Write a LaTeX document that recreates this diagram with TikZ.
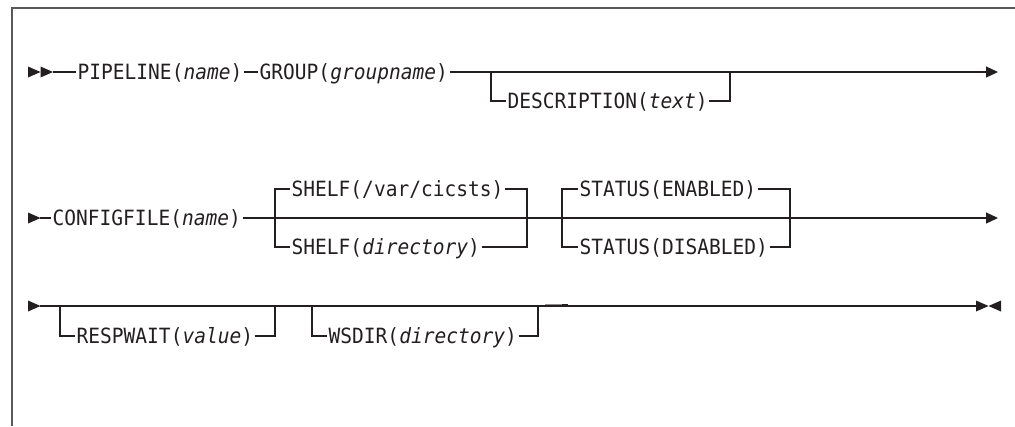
\documentclass[tikz,border=0pt]{standalone}
\usepackage{fontspec}
\setmonofont[FakeStretch=0.93]{DejaVu Sans Mono}
\usetikzlibrary{arrows.meta}
\definecolor{ink}{HTML}{231F20}
\begin{document}
\begin{tikzpicture}[x=1pt,y=-1pt,
  rr/.style={draw=ink, line width=1.25pt},
  kw/.style={anchor=west, inner xsep=1.5pt, inner ysep=0pt,
    font=\ttfamily\fontsize{21}{24}\selectfont,
    text height=18pt, text depth=2.7pt, text=ink},
  endarrow/.style={-{Triangle[length=12pt,width=11pt]}},
  tip/.style={fill=ink},
  frame/.style={draw=black!65, line width=1.6pt}
]
\useasboundingbox (0,0) rectangle (1015,426);
% frame
\draw[frame] (12,426) -- (12,8) -- (1015,8);

% ---------- row 1 ----------
\fill[tip] (28,66.5) -- (40.5,72) -- (28,77.5) -- cycle;
\fill[tip] (40.5,66.5) -- (53,72) -- (40.5,77.5) -- cycle;
\coordinate (r1s) at (53,72);
\node[kw] (pipe) at (76,72) {PIPELINE(\textit{name})};
\node[kw] (group) at (258,72) {GROUP(\textit{groupname})};
\coordinate (r1a) at (491,72);
\coordinate (r1b) at (730,72);
\coordinate (r1e) at (998,72);
\node[kw] (desc) at (506,101) {DESCRIPTION(\textit{text})};
\draw[rr] (r1s) -- (pipe.west);
\draw[rr] (pipe.east) -- (group.west);
\draw[rr,endarrow] (group.east) -- (r1e);
\draw[rr] (r1a) |- (desc.west);
\draw[rr] (desc.east) -| (r1b);

% ---------- row 2 ----------
\fill[tip] (28,212.5) -- (40.5,218) -- (28,223.5) -- cycle;
\coordinate (r2s) at (40,218);
\node[kw] (conf) at (51,218) {CONFIGFILE(\textit{name})};
\coordinate (r2e) at (998,218);
\draw[rr] (r2s) -- (conf.west);
\draw[rr,endarrow] (conf.east) -- (r2e);
\coordinate (sa) at (275,218);
\coordinate (sb) at (527,218);
\node[kw] (shelfd) at (290,189) {SHELF(/var/cicsts)};
\node[kw] (shelfv) at (290,247) {SHELF(\textit{directory})};
\draw[rr] (shelfd.west) -| (sa) |- (shelfv.west);
\draw[rr] (shelfd.east) -| (sb) |- (shelfv.east);
\coordinate (ta) at (562,218);
\coordinate (tb) at (790,218);
\node[kw] (sten) at (578,189) {STATUS(ENABLED)};
\node[kw] (stdis) at (578,247) {STATUS(DISABLED)};
\draw[rr] (sten.west) -| (ta) |- (stdis.west);
\draw[rr] (sten.east) -| (tb) |- (stdis.east);

% ---------- row 3 ----------
\fill[tip] (28,300.5) -- (40.5,306) -- (28,311.5) -- cycle;
\coordinate (r3s) at (40,306);
\coordinate (r3e) at (976,306);
\draw[rr] (r3s) -- (r3e);
\fill[tip] (976,300.5) -- (988.5,306) -- (976,311.5) -- cycle;
\fill[tip] (1001,300.5) -- (988.5,306) -- (1001,311.5) -- cycle;
\coordinate (ra) at (60,306);
\coordinate (rb) at (275,306);
\node[kw] (resp) at (75,336) {RESPWAIT(\textit{value})};
\draw[rr] (ra) |- (resp.west);
\draw[rr] (resp.east) -| (rb);
\coordinate (wa) at (312,306);
\coordinate (wb) at (538,306);
\node[kw] (wsdir) at (327,336) {WSDIR(\textit{directory})};
\draw[rr] (wa) |- (wsdir.west);
\draw[rr] (wsdir.east) -| (wb);
\draw[line width=1.25pt, black!45] (545,304.8) -- (562,304.8);
\draw[line width=1.25pt, ink] (562,304.8) -- (568,304.8);
\end{tikzpicture}
\end{document}
